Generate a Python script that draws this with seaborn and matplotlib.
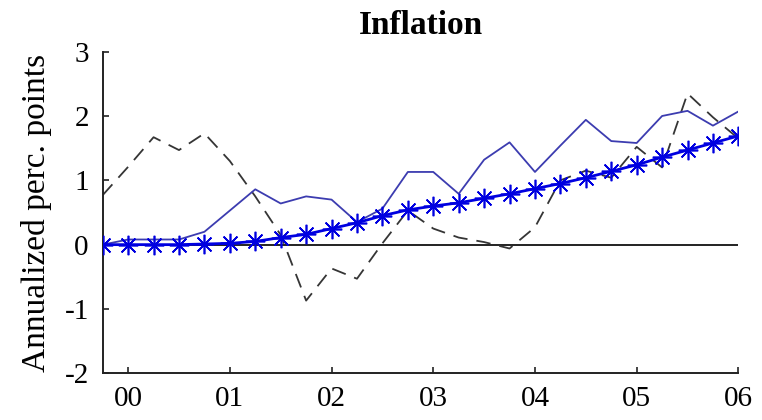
import numpy as np
import pandas as pd
import matplotlib
matplotlib.use("Agg")
import matplotlib.pyplot as plt
import seaborn as sns

# ---------------- data ----------------
quarters = pd.period_range("1999Q4", "2006Q1", freq="Q")
model_line = [0.00, 0.00, 0.00, 0.00, 0.01, 0.02, 0.05, 0.11, 0.16, 0.25,
              0.34, 0.45, 0.54, 0.60, 0.65, 0.72, 0.79, 0.87, 0.95, 1.04,
              1.14, 1.24, 1.36, 1.47, 1.58, 1.69]
solid_line = [0.00, 0.08, 0.08, 0.08, 0.20, 0.53, 0.86, 0.64, 0.75, 0.70,
              0.35, 0.56, 1.13, 1.13, 0.79, 1.32, 1.59, 1.13, 1.54, 1.94,
              1.61, 1.58, 2.00, 2.08, 1.85, 2.07]
dashed_line = [0.77, 1.21, 1.67, 1.47, 1.73, 1.30, 0.75, 0.15, -0.87, -0.37,
               -0.53, 0.02, 0.53, 0.25, 0.11, 0.04, -0.06, 0.27, 1.00, 1.15,
               1.04, 1.52, 1.20, 2.35, 1.98, 1.65]
tick_years = [2000, 2001, 2002, 2003, 2004, 2005, 2006]
tick_labels = ["00", "01", "02", "03", "04", "05", "06"]
y_ticks = [-2, -1, 0, 1, 2, 3]

x_vals = [p.year + (p.quarter - 1) / 4 for p in quarters]
df = pd.DataFrame({"x": x_vals, "model": model_line,
                   "solid": solid_line, "dashed": dashed_line})

# ---------------- style ----------------
sns.set_style("ticks")
plt.rcParams["font.family"] = ["Liberation Serif", "DejaVu Serif"]
plt.rcParams["axes.unicode_minus"] = False
plt.rcParams["xtick.direction"] = "in"
plt.rcParams["ytick.direction"] = "in"
plt.rcParams["text.color"] = "black"
plt.rcParams["axes.labelcolor"] = "black"
plt.rcParams["xtick.color"] = "black"
plt.rcParams["ytick.color"] = "black"

fig = plt.figure(figsize=(7.62, 4.2), dpi=100)
ax = fig.add_axes([0.1348, 0.1112, 0.8342, 0.7658])

ax.axhline(0, color="#222222", lw=1.4, zorder=1)

sns.lineplot(data=df, x="x", y="dashed", ax=ax, color="#353535", lw=1.3,
             linestyle=(0, (8, 5)), zorder=2)
sns.lineplot(data=df, x="x", y="solid", ax=ax, color="#3c3cb0", lw=1.3,
             zorder=3)
sns.lineplot(data=df, x="x", y="model", ax=ax, color="#0000e0", lw=2.0,
             marker=(8, 2, 0), markersize=14, markeredgewidth=1.2,
             markeredgecolor="#0000e0", zorder=4)

ax.set_xlim(x_vals[0], x_vals[-1])
ax.set_ylim(-2, 3)
ax.set_xticks(tick_years)
ax.set_xticklabels(tick_labels)
ax.set_yticks(y_ticks)
ax.tick_params(axis="both", labelsize=21, length=4, width=1.2,
               color="#222222", labelcolor="black")
ax.tick_params(axis="x", pad=9)
ax.tick_params(axis="y", pad=10)
for s in ["top", "right"]:
    ax.spines[s].set_visible(False)
for s in ["left", "bottom"]:
    ax.spines[s].set_linewidth(1.4)
    ax.spines[s].set_color("#222222")

ax.set_xlabel("")
ax.set_ylabel("Annualized perc. points", fontsize=24, labelpad=9)
ax.set_title("Inflation", fontsize=24, fontweight="bold", pad=12.5)

fig.savefig("out.png", dpi=100)
